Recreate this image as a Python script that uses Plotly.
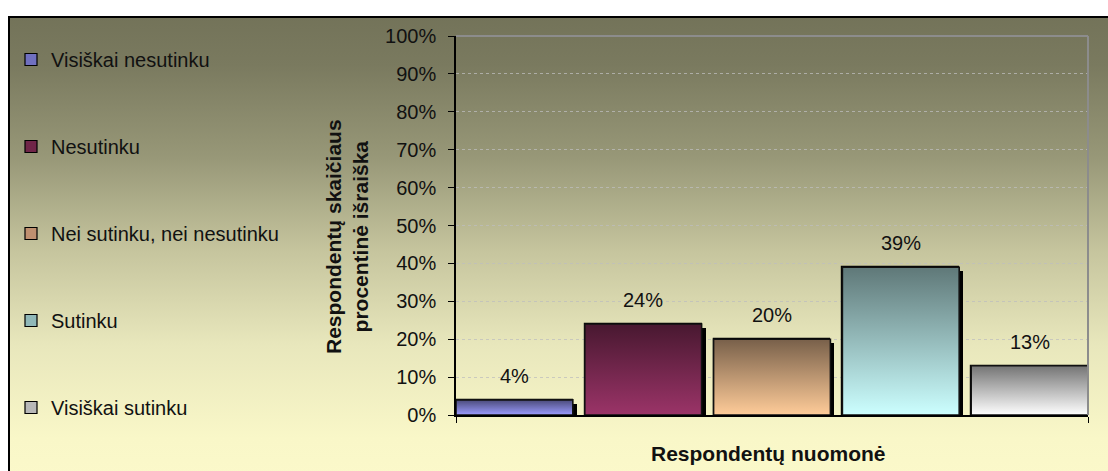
import base64
import plotly.graph_objects as go

# ---- data ----
categories = ["Visiškai nesutinku", "Nesutinku", "Nei sutinku, nei nesutinku", "Sutinku", "Visiškai sutinku"]
values = [4, 24, 20, 39, 13]
y_ticks = [0, 10, 20, 30, 40, 50, 60, 70, 80, 90, 100]
y_tick_labels = [f"{t}%" for t in y_ticks]
y_title = "Respondentų skaičiaus<br>procentinė išraiška"
x_title = "Respondentų nuomonė"

# ---- styles ----
light_colors = ["#9c9cff", "#9b3468", "#ffcc99", "#ccffff", "#ffffff"]
dark_colors = ["#4a4a7a", "#481830", "#78604a", "#5f7878", "#747474"]
mid_colors = ["#7070c0", "#702548", "#c09070", "#90b8b8", "#b8b8b8"]
FONT = "Arial, Liberation Sans"

W, H = 1108, 471
OFF = 0                                   # page body margin (set to 0 below)
SL, SR, ST, SB = 456, 1088, 36, 415       # plot area in screen px
L, R, T, B = SL - OFF, SR - OFF, ST - OFF, SB - OFF
pw, ph = R - L, B - T
bar_w = 0.907
x_range = [-bar_w / 2, len(values) - 1 + bar_w / 2]
px_x = pw / (x_range[1] - x_range[0])
px_y = ph / 100.0
shadow_px = 4

def sx(px):  # screen x -> paper
    return (px - OFF - L) / pw

def sy(py):  # screen y -> paper
    return (B - (py - OFF)) / ph

fig = go.Figure()

for i, (c, v) in enumerate(zip(categories, values)):
    fig.add_trace(go.Bar(
        x=[i], y=[v], name=c, width=bar_w,
        marker=dict(color=mid_colors[i], line=dict(color="black", width=1.2)),
        legendgroup=c, hoverinfo="skip",
    ))

for i, v in enumerate(values):
    fig.add_trace(go.Bar(
        x=[i], y=[v - shadow_px / px_y], width=bar_w,
        offset=-bar_w / 2 + shadow_px / px_x,
        marker=dict(color="black", line=dict(width=0)),
        showlegend=False, hoverinfo="skip", cliponaxis=False,
    ))

for i, v in enumerate(values):
    x0, x1 = i - bar_w / 2, i + bar_w / 2
    fig.add_trace(go.Scatter(
        x=[x0, x0, x1, x1, x0], y=[0, v, v, 0, 0],
        mode="lines", fill="toself",
        fillgradient=dict(type="vertical",
                          colorscale=[[0, light_colors[i]], [1, dark_colors[i]]]),
        line=dict(color="#111111", width=1.6),
        showlegend=False, hoverinfo="skip", cliponaxis=False,
    ))

for i, v in enumerate(values):
    fig.add_annotation(x=i, y=v, xref="x", yref="y", text=f"{v}%",
                       showarrow=False, yanchor="bottom", yshift=11,
                       font=dict(size=20, color="#111111", family=FONT))

stops = [(0, "#737359"), (0.1, "#7a7a5f"), (0.29, "#989878"), (0.48, "#c6c59e"),
         (0.67, "#e8e7bc"), (0.86, "#f9f7c8"), (1, "#fcfacb")]
stop_s = "".join(f'<stop offset="{o}" stop-color="{c}"/>' for o, c in stops)
svg = ('<svg xmlns="http://www.w3.org/2000/svg" width="100" height="100" viewBox="0 0 100 100" '
       'preserveAspectRatio="none"><defs><linearGradient id="g" x1="0" y1="0" x2="0" y2="1">'
       + stop_s + '</linearGradient></defs><rect width="100" height="100" fill="url(#g)"/></svg>')
src = "data:image/svg+xml;base64," + base64.b64encode(svg.encode()).decode()

chart_left, chart_top = 8, 16   # screen px
fig.add_layout_image(dict(
    source=src, xref="paper", yref="paper",
    x=sx(chart_left), y=sy(chart_top),
    sizex=(W + 20) / pw, sizey=(H + 20) / ph,
    xanchor="left", yanchor="top", sizing="stretch", layer="below",
))

fig.add_shape(type="rect", xref="paper", yref="paper",
              x0=sx(chart_left + 1), x1=sx(W + 40),
              y0=sy(H + 40), y1=sy(chart_top + 1),
              line=dict(color="black", width=2), layer="above")
fig.add_shape(type="line", xref="paper", yref="paper", x0=0, x1=1, y0=1, y1=1,
              line=dict(color="#8c8c8c", width=2))
fig.add_shape(type="line", xref="paper", yref="paper", x0=1, x1=1, y0=0, y1=1,
              line=dict(color="#8c8c8c", width=2))

fig.add_annotation(text="<b>" + y_title.replace("<br>", "</b><br><b>") + "</b>",
                   xref="paper", yref="paper",
                   x=sx(347), y=sy(237), textangle=-90,
                   showarrow=False, xanchor="center", yanchor="middle",
                   font=dict(size=21, color="#111111", family=FONT))
fig.add_annotation(text=f"<b>{x_title}</b>", xref="paper", yref="paper",
                   x=sx(768), y=sy(453),
                   showarrow=False, xanchor="center", yanchor="middle",
                   font=dict(size=21, color="#111111", family=FONT))

fig.update_layout(
    width=W, height=H,
    margin=dict(l=L, r=W - R, t=T, b=H - B, pad=0, autoexpand=False),
    paper_bgcolor="white", plot_bgcolor="rgba(0,0,0,0)",
    barmode="overlay", bargap=0,
    font=dict(family=FONT, size=19, color="#111111"),
    legend=dict(x=sx(11), y=sy(40), xanchor="left", yanchor="top",
                xref="paper", yref="paper",
                font=dict(size=20), tracegroupgap=58, bgcolor="rgba(0,0,0,0)",
                itemwidth=30, traceorder="grouped", maxheight=450),
    showlegend=True,
)
fig.update_xaxes(range=x_range, showticklabels=False, showgrid=False,
                 tickvals=x_range, ticks="outside", ticklen=6, tickcolor="black",
                 showline=True, linecolor="black", linewidth=1.5, zeroline=False, fixedrange=True)
fig.update_yaxes(range=[0, 100], tickvals=y_ticks, ticktext=y_tick_labels, ticks="outside",
                 ticklen=6, tickcolor="black", showline=True, linecolor="black", linewidth=1.5,
                 showgrid=True, gridcolor="rgba(190,190,190,0.75)", griddash="dot", gridwidth=1,
                 zeroline=False, tickfont=dict(size=20), fixedrange=True, automargin=False,
                 ticklabelstandoff=8)

fig.write_html("out.html", config={"displayModeBar": False}, post_script=(
    "document.body.style.margin='0';"
    "document.documentElement.style.overflow='hidden';"
    "document.body.style.overflow='hidden';"))
